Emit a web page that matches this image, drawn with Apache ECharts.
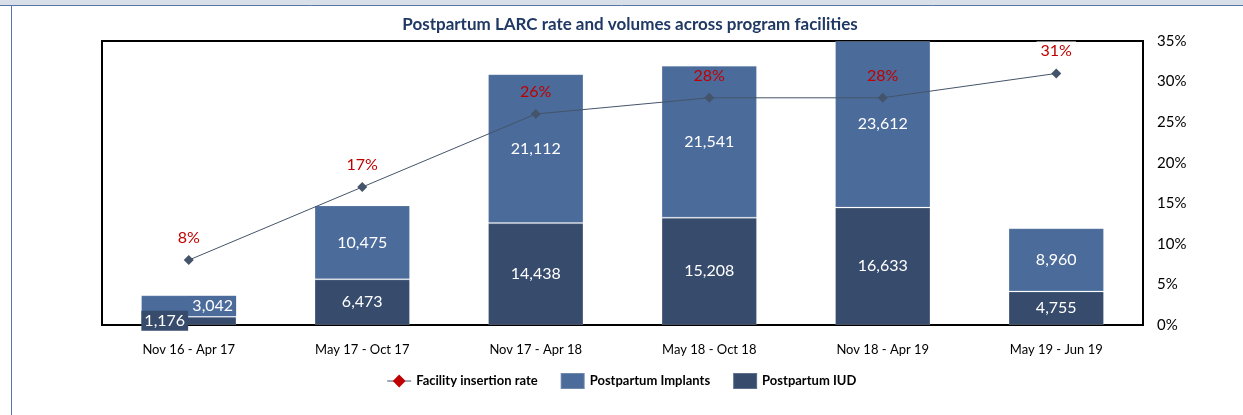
<!DOCTYPE html>
<html>
<head>
<meta charset="utf-8">
<script src="https://cdn.jsdelivr.net/npm/echarts@6/dist/echarts.min.js"></script>
<style>
  html, body { margin: 0; padding: 0; background: #fff; }
  #main { width: 1243px; height: 415px; }
</style>
</head>
<body>
<div id="main"></div>
<script>
// chart data
const periods = ['Nov 16 - Apr 17', 'May 17 - Oct 17', 'Nov 17 - Apr 18', 'May 18 - Oct 18', 'Nov 18 - Apr 19', 'May 19 - Jun 19'];
const iudValues = [1176, 6473, 14438, 15208, 16633, 4755];
const implantValues = [3042, 10475, 21112, 21541, 23612, 8960];
const insertionRate = [0.08, 0.17, 0.26, 0.28, 0.28, 0.31];
const rateTicks = [0, 0.05, 0.1, 0.15, 0.2, 0.25, 0.3, 0.35];

const implantColor = '#4b6b9a';
const iudColor = '#374b6c';
const fontName = 'Lato, "Open Sans", sans-serif';

let myChart = echarts.init(document.getElementById('main'));

// first bar is tiny, Excel moved its labels aside
let iudData = iudValues.map((v, i) => i === 0
    ? { value: v, label: { offset: [-24, 0], backgroundColor: iudColor, padding: [2, 3] } }
    : v);
let implantData = implantValues.map((v, i) => i === 0
    ? { value: v, label: { offset: [24, 0], backgroundColor: implantColor, padding: [2, 3] } }
    : v);
// last rate label sits on the frame line, white box hides the line
let rateData = insertionRate.map((v, i) => i === insertionRate.length - 1
    ? { value: v, label: { backgroundColor: '#fff', padding: [1, 4] } }
    : v);

let barLabel = {
    show: true,
    color: '#fff',
    fontSize: 16,
    fontFamily: fontName,
    formatter: p => p.value.toLocaleString('en-US')
};

let option = {
    title: {
        text: 'Postpartum LARC rate and volumes across program facilities',
        left: 625,
        textAlign: 'center',
        top: 11,
        textStyle: { color: '#1f3864', fontSize: 17, fontWeight: 'bold', fontFamily: fontName }
    },
    graphic: [
        { type: 'rect', shape: { x: 0, y: 0, width: 1243, height: 5 }, style: { fill: '#d9dfe8' }, silent: true },
        { type: 'line', shape: { x1: 0, y1: 5.5, x2: 1243, y2: 5.5 }, style: { stroke: '#5775a6', lineWidth: 1 }, silent: true },
        { type: 'line', shape: { x1: 11.5, y1: 5, x2: 11.5, y2: 415 }, style: { stroke: '#5775a6', lineWidth: 1 }, silent: true }
    ],
    legend: {
        bottom: 20,
        left: 'center',
        itemGap: 22,
        itemWidth: 24,
        itemHeight: 16,
        textStyle: { color: '#000', fontSize: 13, fontWeight: 'bold', fontFamily: fontName },
        data: [
            { name: 'Facility insertion rate', itemStyle: { color: '#c00000' }, lineStyle: { color: '#44546a', width: 1 } },
            { name: 'Postpartum Implants', icon: 'rect' },
            { name: 'Postpartum IUD', icon: 'rect' }
        ]
    },
    grid: {
        left: 102, right: 100, top: 41, bottom: 90,
        show: true, borderColor: '#000', borderWidth: 2
    },
    xAxis: {
        type: 'category',
        data: periods,
        axisLine: { show: true, lineStyle: { color: '#000', width: 2 } },
        axisTick: { show: false },
        axisLabel: { color: '#000', fontSize: 13, fontFamily: fontName, margin: 18 }
    },
    yAxis: [
        { type: 'value', min: 0, max: 40245, show: false, splitLine: { show: false } },
        {
            type: 'value',
            position: 'right',
            min: 0, max: 0.35, interval: 0.05,
            axisLine: { show: false },
            axisTick: { show: false },
            splitLine: { show: false },
            axisLabel: {
                color: '#000', fontSize: 15, fontFamily: fontName, margin: 14,
                formatter: v => rateTicks.includes(Math.round(v * 100) / 100) ? Math.round(v * 100) + '%' : ''
            }
        }
    ],
    series: [
        {
            name: 'Postpartum IUD',
            type: 'bar',
            stack: 'larc',
            barWidth: '55%',
            data: iudData,
            itemStyle: { color: iudColor, borderColor: 'rgba(255,255,255,0.2)', borderWidth: 1 },
            label: barLabel
        },
        {
            name: 'Postpartum Implants',
            type: 'bar',
            stack: 'larc',
            data: implantData,
            itemStyle: { color: implantColor, borderColor: 'rgba(255,255,255,0.2)', borderWidth: 1 },
            label: barLabel
        },
        {
            name: 'Facility insertion rate',
            type: 'line',
            yAxisIndex: 1,
            data: rateData,
            z: 5,
            symbol: 'diamond',
            symbolSize: 10,
            itemStyle: { color: '#44546a' },
            lineStyle: { color: '#44546a', width: 1 },
            label: {
                show: true,
                position: 'top',
                distance: 9,
                color: '#c00000',
                fontSize: 16,
                fontFamily: fontName,
                formatter: p => Math.round(p.value * 100) + '%'
            }
        }
    ]
};

myChart.setOption(option);
</script>
</body>
</html>
